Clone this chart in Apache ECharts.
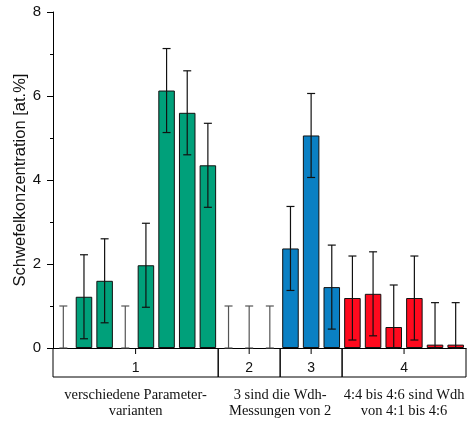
<!DOCTYPE html>
<html>
<head>
<meta charset="utf-8">
<script src="https://cdn.jsdelivr.net/npm/echarts@6/dist/echarts.min.js"></script>
<style>
  html, body { margin: 0; padding: 0; background: #fff; }
  #main { width: 469px; height: 423px; }
</style>
</head>
<body>
<div id="main"></div>
<script>
// Kategorien (Proben), 4 Gruppen
var categories = ['1:1', '1:2', '1:3', '1:4', '1:5', '1:6', '1:7', '1:8',
  '2:1', '2:2', '2:3', '3:1', '3:2', '3:3',
  '4:1', '4:2', '4:3', '4:4', '4:5', '4:6']
// Schwefelkonzentration [at.%]
var values = [null, 1.22, 1.6, null, 1.97, 6.13, 5.6, 4.35,
  null, null, null, 2.37, 5.06, 1.45,
  1.19, 1.29, 0.5, 1.19, 0.08, 0.08]
// Fehlerbalken unten / oben
var errLow = [0, 0.22, 0.6, 0, 0.97, 5.13, 4.6, 3.35,
  0, 0, 0, 1.37, 4.06, 0.45,
  0.19, 0.29, 0, 0.19, 0, 0]
var errHigh = [1, 2.22, 2.6, 1, 2.97, 7.13, 6.6, 5.35,
  1, 1, 1, 3.37, 6.06, 2.45,
  2.19, 2.29, 1.5, 2.19, 1.08, 1.08]
// Gruppen
var groupNames = ['1', '2', '3', '4']
var groupStart = [0, 8, 11, 14]
var groupEnd = [8, 11, 14, 20]
var groupColors = ['#00a07a', '#0a80c4', '#0a80c4', '#ff0a1e']
// Anmerkungen unter den Gruppen
var notes = ['verschiedene Parameter-\nvarianten', '3 sind die Wdh-\nMessungen von 2', '4:4 bis 4:6 sind Wdh\nvon 4:1 bis 4:6']
var noteStart = [0, 8, 14]
var noteEnd = [8, 14, 20]

function groupOf (i) {
  for (var g = 0; g < groupStart.length; g++) {
    if (i >= groupStart[g] && i < groupEnd[g]) return g
  }
  return 0
}

var myChart = echarts.init(document.getElementById('main'))

var barData = values.map(function (v, i) {
  return {
    value: v,
    itemStyle: { color: groupColors[groupOf(i)] }
  }
})

var option = {
  animation: false,
  grid: { left: 53, right: 3, top: 12, bottom: 75, outerBoundsMode: 'none', containLabel: false },
  xAxis: {
    type: 'category',
    data: categories,
    boundaryGap: true,
    axisLine: { lineStyle: { color: '#000', width: 1 } },
    axisTick: { show: false },
    axisLabel: { show: false }
  },
  yAxis: {
    type: 'value',
    min: 0,
    max: 8,
    interval: 2,
    name: 'Schwefelkonzentration [at.%]',
    nameLocation: 'middle',
    nameGap: 24,
    nameMoveOverlap: false,
    nameTextStyle: { fontSize: 16.5, color: '#111', fontFamily: 'Liberation Sans' },
    axisLine: { show: true, lineStyle: { color: '#000', width: 1 } },
    axisTick: { show: true, length: 6, lineStyle: { color: '#000' } },
    minorTick: { show: true, splitNumber: 2, length: 3, lineStyle: { color: '#000' } },
    splitLine: { show: false },
    axisLabel: { fontSize: 15, color: '#111', margin: 12, fontFamily: 'Liberation Sans' }
  },
  series: [
    {
      type: 'bar',
      data: barData,
      barCategoryGap: '20%',
      itemStyle: { borderColor: '#111', borderWidth: 1 },
      z: 2
    },
    {
      // Fehlerbalken
      type: 'custom',
      data: categories.map(function (c, i) { return [i, errLow[i], errHigh[i]] }),
      z: 3,
      renderItem: function (params, api) {
        var i = api.value(0)
        var lo = api.coord([i, api.value(1)])
        var hi = api.coord([i, api.value(2)])
        var cap = 4
        var col = values[params.dataIndex] === null ? '#555' : '#111'
        var st = { stroke: col, lineWidth: 1.2 }
        return {
          type: 'group',
          children: [
            { type: 'line', shape: { x1: hi[0], y1: hi[1], x2: lo[0], y2: lo[1] }, style: st },
            { type: 'line', shape: { x1: hi[0] - cap, y1: hi[1], x2: hi[0] + cap, y2: hi[1] }, style: st },
            { type: 'line', shape: { x1: lo[0] - cap, y1: lo[1], x2: lo[0] + cap, y2: lo[1] }, style: st }
          ]
        }
      }
    },
    {
      // Gruppenkasten unter der Achse
      type: 'custom',
      clip: false,
      data: groupNames.map(function (g, i) { return [groupStart[i], 0] }),
      z: 4,
      renderItem: function (params, api) {
        var k = params.dataIndex
        var bw = api.size([1, 0])[0]
        var a = api.coord([groupStart[k], 0])
        var b = api.coord([groupEnd[k] - 1, 0])
        var x0 = a[0] - bw / 2
        var x1 = b[0] + bw / 2
        var y0 = a[1]
        var h = 29
        var xm = (x0 + x1) / 2
        var st = { stroke: '#000', lineWidth: 1 }
        var children = [
          { type: 'line', shape: { x1: x0, y1: y0, x2: x0, y2: y0 + h }, style: st },
          { type: 'line', shape: { x1: x1, y1: y0, x2: x1, y2: y0 + h }, style: st },
          { type: 'line', shape: { x1: x0, y1: y0 + h, x2: x1, y2: y0 + h }, style: st },
          { type: 'line', shape: { x1: xm, y1: y0, x2: xm, y2: y0 + 6 }, style: st },
          {
            type: 'text',
            style: {
              text: groupNames[k], x: xm, y: y0 + 20, align: 'center', verticalAlign: 'middle',
              fontSize: 14, fontFamily: 'Liberation Sans', fill: '#111'
            }
          }
        ]
        return { type: 'group', children: children }
      }
    },
    {
      // Anmerkungen
      type: 'custom',
      clip: false,
      data: notes.map(function (n, i) { return [noteStart[i], 0] }),
      z: 4,
      renderItem: function (params, api) {
        var k = params.dataIndex
        var bw = api.size([1, 0])[0]
        var a = api.coord([noteStart[k], 0])
        var b = api.coord([noteEnd[k] - 1, 0])
        var xm = (a[0] - bw / 2 + b[0] + bw / 2) / 2
        return {
          type: 'text',
          style: {
            text: notes[k], x: xm, y: a[1] + 39, align: 'center', verticalAlign: 'top',
            fontSize: 14.5, lineHeight: 16, fontFamily: 'Liberation Serif', fill: '#111'
          }
        }
      }
    }
  ]
}

myChart.setOption(option)
</script>
</body>
</html>
